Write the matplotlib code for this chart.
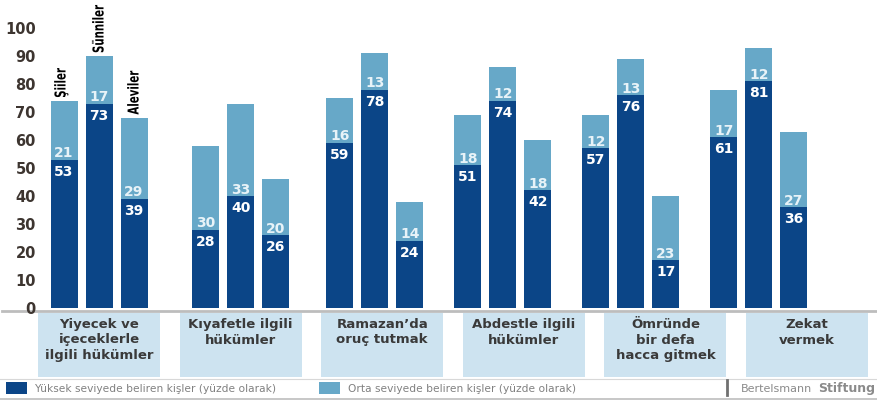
import matplotlib.pyplot as plt
import numpy as np
from matplotlib.textpath import TextPath
from matplotlib.patches import PathPatch
from matplotlib.font_manager import FontProperties
from matplotlib.transforms import Affine2D, IdentityTransform

categories = ["Yiyecek ve\niçeceklerle\nilgili hükümler", "Kıyafetle ilgili\nhükümler",
              "Ramazan’da\noruç tutmak", "Abdestle ilgili\nhükümler",
              "Ömründe\nbir defa\nhacca gitmek", "Zekat\nvermek"]
groups = ["Şiiler", "Sünniler", "Aleviler"]

# high level (dark) per category: Şiiler, Sünniler, Aleviler
high = [[53, 73, 39], [28, 40, 26], [59, 78, 24], [51, 74, 42], [57, 76, 17], [61, 81, 36]]
# medium level (light)
medium = [[21, 17, 29], [30, 33, 20], [16, 13, 14], [18, 12, 18], [12, 13, 23], [17, 12, 27]]

yticks = [0, 10, 20, 30, 40, 50, 60, 70, 80, 90, 100]
legend_labels = ["Yüksek seviyede beliren kişler (yüzde olarak)",
                 "Orta seviyede beliren kişler (yüzde olarak)"]

dark = "#0b4587"
light = "#67a8c8"
boxc = "#cde3f0"
tickc = "#3d3530"

W, H = 877, 401
fig = plt.figure(figsize=(W / 100, H / 100), dpi=100)

# layout in pixels
group_x = [99, 241, 375, 503, 631, 759]
offsets = [-35, 0, 35]
bw = 27
box_x = [99 + 141.6 * i for i in range(6)]

# main bar axes, x in pixels, 0 at y=308px, 2.8 px per unit
ax = fig.add_axes([40 / W, (H - 308) / H, 1 - 40 / W, 308 / H])
ax.set_xlim(40, W)
ax.set_ylim(0, 308 / 2.8)
for s in ax.spines.values():
    s.set_visible(False)
ax.set_xticks([])
ax.set_yticks(yticks)
ax.set_yticklabels([str(t) for t in yticks], fontweight="bold", fontsize=10.5, color=tickc)
ax.tick_params(axis="y", length=0, pad=3)

label_fp = FontProperties(family="DejaVu Sans", weight="bold")

for i in range(len(categories)):
    for j in range(3):
        x = group_x[i] + offsets[j]
        h = high[i][j]
        m = medium[i][j]
        ax.bar(x, h, width=bw, color=dark)
        ax.bar(x, m, width=bw, bottom=h, color=light)
        ax.text(x, h - 4.3, str(h), ha="center", va="center", color="white",
                fontsize=10, fontweight="bold")
        ax.text(x, h + 2.3, str(m), ha="center", va="center", color="#e8f3f8",
                fontsize=10, fontweight="bold")
        if i == 0:
            # condensed, rotated series name drawn as a path
            px, py = ax.transData.transform((x, h + m))
            dx = -4 if j == 0 else -1
            tp = TextPath((0, 0), groups[j], size=15, prop=label_fp)
            tr = (Affine2D().scale(0.68, 1.0).rotate_deg(90)
                  .translate(px + dx + 5.5, py + 3))
            fig.patches.append(PathPatch(tp, transform=tr + IdentityTransform(),
                                         facecolor="black", lw=0, figure=fig))

# overlay for boxes, lines and legend (pixel coords)
ov = fig.add_axes([0, 0, 1, 1], zorder=-1)
ov.set_xlim(0, W)
ov.set_ylim(H, 0)
ov.axis("off")

ov.plot([2, W], [311, 311], color="#bdbdbd", lw=2)
for cx, lab in zip(box_x, categories):
    ov.add_patch(plt.Rectangle((cx - 61, 313), 122, 64, color=boxc, lw=0))
    ov.text(cx, 318, lab, ha="center", va="top", fontsize=9.5, fontweight="bold",
            color="#3a3a3a", linespacing=1.25)

ov.plot([0, W], [378.5, 378.5], color="#d8d8d8", lw=0.8)
ov.plot([0, W], [398.5, 398.5], color="#bdbdbd", lw=1.2)

ov.add_patch(plt.Rectangle((6, 382), 21, 12, color=dark, lw=0))
ov.text(35, 388.5, legend_labels[0], ha="left", va="center", fontsize=7.7, color="#808080")
ov.add_patch(plt.Rectangle((319, 382), 21, 12, color=light, lw=0))
ov.text(348, 388.5, legend_labels[1], ha="left", va="center", fontsize=7.7, color="#808080")

ov.plot([727, 727], [380, 395], color="#707070", lw=2)
ov.text(812, 388.5, "Bertelsmann", ha="right", va="center", fontsize=8, color="#8a8a8a")
ov.text(875, 388.5, "Stiftung", ha="right", va="center", fontsize=9, color="#8a8a8a",
        fontweight="bold")

fig.savefig("out.png", dpi=100)
